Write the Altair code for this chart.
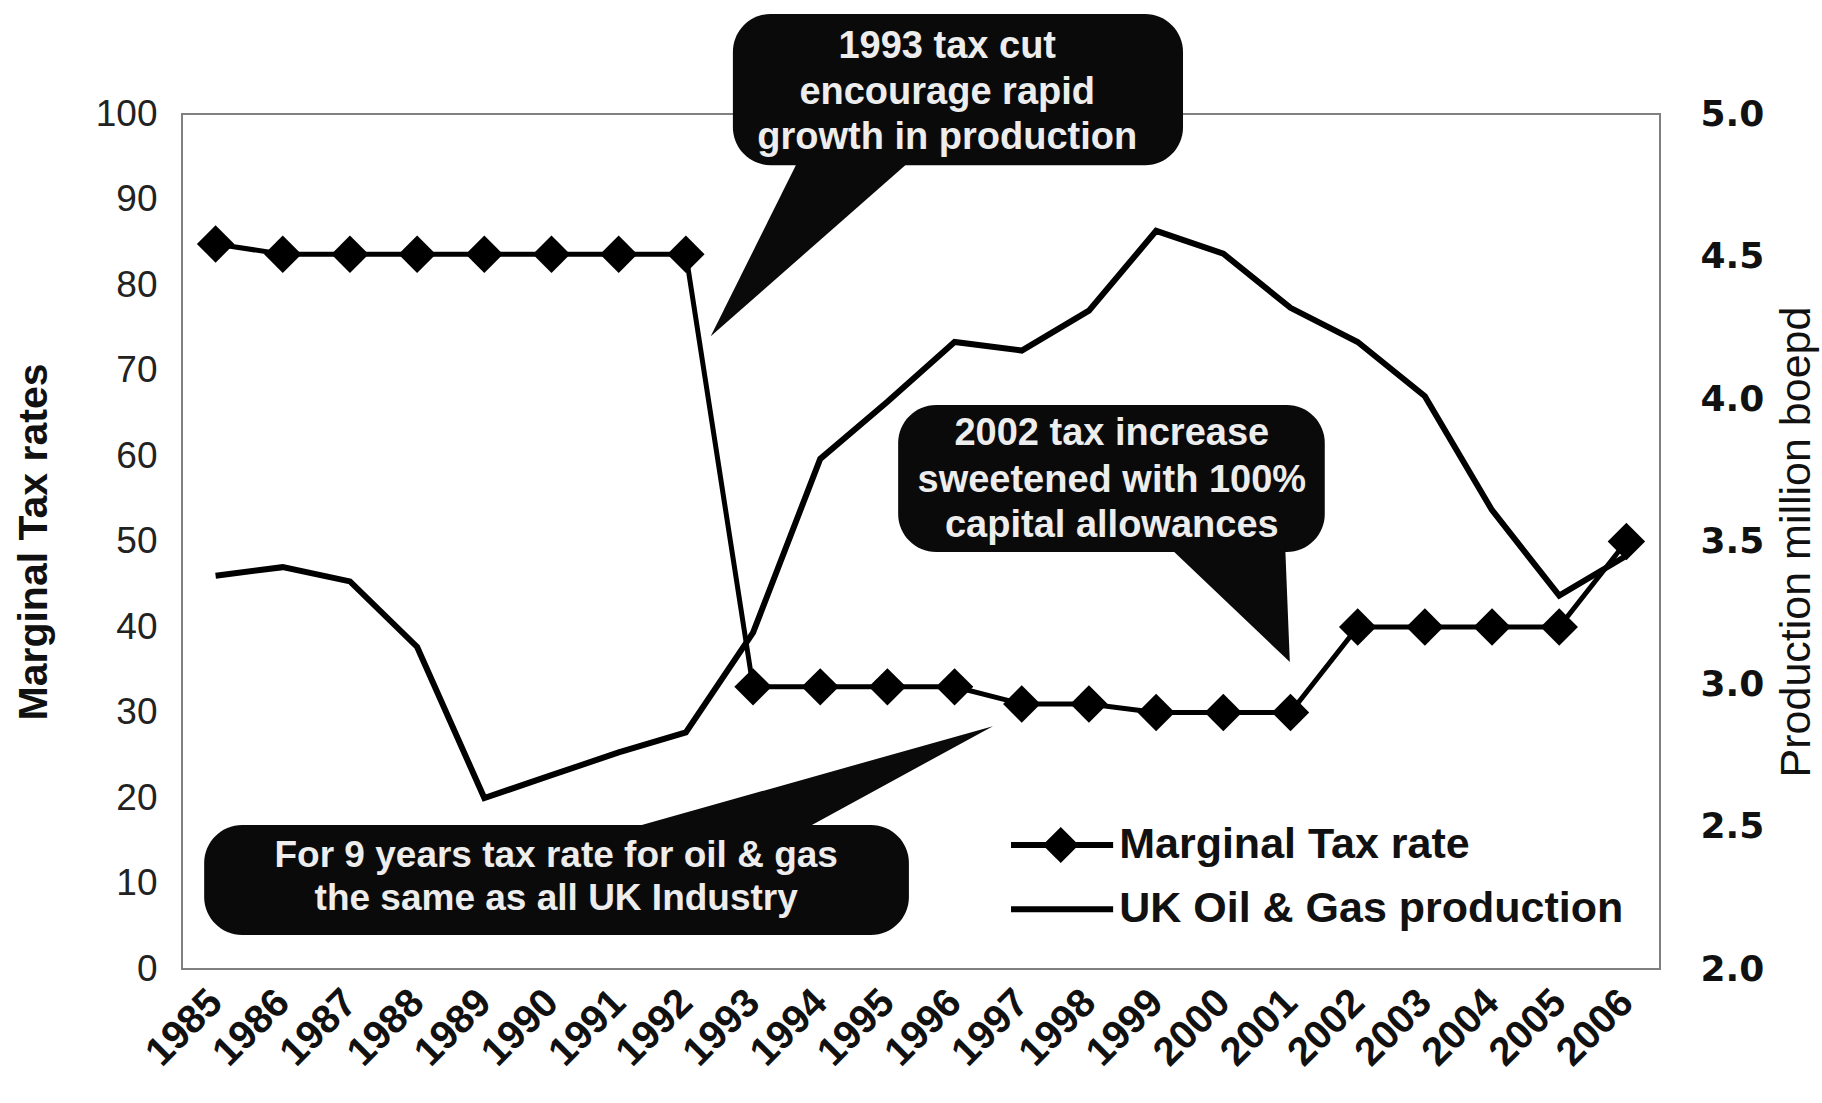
import altair as alt
import pandas as pd

# ---------------- data ----------------
years = list(range(1985, 2007))
tax_rate = [84.8, 83.6, 83.6, 83.6, 83.6, 83.6, 83.6, 83.6,
            33, 33, 33, 33, 31, 31, 30, 30, 30, 40, 40, 40, 40, 50]
production = [3.38, 3.41, 3.36, 3.13, 2.60, 2.68, 2.76, 2.83,
              3.18, 3.79, 3.99, 4.20, 4.17, 4.31, 4.59, 4.51,
              4.32, 4.20, 4.01, 3.61, 3.31, 3.45]

left_ticks = [0, 10, 20, 30, 40, 50, 60, 70, 80, 90, 100]
right_ticks = [2.0, 2.5, 3.0, 3.5, 4.0, 4.5, 5.0]

# callout boxes (year / tax-rate units)
box_x1 = [1992.70, 1995.16, 1984.83]
box_x2 = [1999.40, 2001.51, 1995.32]
box_y1 = [111.7, 65.96, 16.84]
box_y2 = [94.0, 48.77, 3.98]

# callout tails: (x, y) vertices
tail_vertices = [
    [(1992.37, 74.0), (1993.70, 95.0), (1995.41, 95.0)],
    [(2000.99, 35.9), (1999.16, 49.6), (2000.92, 49.6)],
    [(1996.57, 28.4), (1991.08, 16.26), (1993.74, 16.26)],
]

callout_text = [
    "1993 tax cut", "encourage rapid", "growth in production",
    "2002 tax increase", "sweetened with 100%", "capital allowances",
    "For 9 years tax rate for oil & gas", "the same as all UK Industry",
]
callout_x = [1995.89, 1995.89, 1995.89, 1998.34, 1998.34, 1998.34, 1990.07, 1990.07]
callout_y = [107.8, 102.5, 97.2, 62.6, 57.1, 51.8, 13.2, 8.2]
callout_size = [38, 38, 38, 38, 38, 38, 37, 37]

legend_labels = ["Marginal Tax rate", "UK Oil & Gas production"]
legend_x1 = [1996.84, 1996.84]
legend_x2 = [1998.36, 1998.36]
legend_mark_x = [1997.58]
legend_text_x = [1998.45, 1998.45]
legend_y = [14.5, 7.0]

FONT = "Liberation Sans"

# ---------------- tables ----------------
df = pd.DataFrame({"year": years, "tax": tax_rate, "prod": production})
boxes = pd.DataFrame({"x1": box_x1, "x2": box_x2, "y1": box_y1, "y2": box_y2})


def tri_to_area(vertices, tid):
    rows = []
    edges = [(vertices[i], vertices[(i + 1) % 3]) for i in range(3)]
    for vx, _ in sorted(vertices):
        ys = []
        for (ax, ay), (bx, by) in edges:
            lo, hi = min(ax, bx), max(ax, bx)
            if lo - 1e-9 <= vx <= hi + 1e-9:
                if abs(bx - ax) < 1e-9:
                    ys += [ay, by]
                else:
                    t = (vx - ax) / (bx - ax)
                    ys.append(ay + t * (by - ay))
        rows.append({"tail": tid, "x": vx, "y": max(ys), "y2": min(ys)})
    return rows


tails = pd.DataFrame([r for i, v in enumerate(tail_vertices) for r in tri_to_area(v, i)])
texts = pd.DataFrame({"text": callout_text, "x": callout_x, "y": callout_y, "size": callout_size})
leg = pd.DataFrame({"label": legend_labels, "x1": legend_x1, "x2": legend_x2,
                    "tx": legend_text_x, "y": legend_y})
leg_pt = pd.DataFrame({"x": legend_mark_x, "y": legend_y[:1]})

# ---------------- scales / axes ----------------
x_scale = alt.Scale(domain=[1984.5, 2006.5], nice=False, zero=False)
prod_scale = alt.Scale(domain=[2, 5], nice=False, zero=False)


def tax_scale():
    return alt.Scale(domain=[0, 100], nice=False, zero=False)


x_axis = alt.Axis(values=years, format="d", labelAngle=-45, labelAlign="right",
                  labelBaseline="middle", labelFont=FONT, labelFontSize=40,
                  labelFontWeight="bold", labelColor="#111", ticks=False,
                  domain=False, grid=False, labelPadding=27, title=None,
                  labelOverlap=False)
left_axis = alt.Axis(values=left_ticks, title="Marginal Tax rates", titleFont=FONT,
                     titleFontSize=41, titleFontWeight="bold", titleColor="#111",
                     titlePadding=40, labelFont=FONT, labelFontSize=37,
                     labelFontWeight="normal", labelColor="#222", labelPadding=25,
                     ticks=False, domain=False, grid=False, orient="left")
right_axis = alt.Axis(values=right_ticks, format=".1f", orient="right",
                      title="Production million boepd", titleFont=FONT,
                      titleFontSize=43, titleFontWeight="normal", titleColor="#111",
                      titleAngle=270, titleBaseline="top", titlePadding=12,
                      labelFont="DejaVu Sans", labelFontSize=36, labelFontWeight="bold",
                      labelColor="#111", labelPadding=40, ticks=False,
                      domain=False, grid=False)


def X(field):
    # identical x axis in every layer so the shared axis merges cleanly
    return alt.X(field, type="quantitative", scale=x_scale, axis=x_axis)


def Yt(field, axis=None):
    return alt.Y(field, type="quantitative", scale=tax_scale(), axis=axis)


# ---------------- layers ----------------
prod_line = alt.Chart(df).mark_line(color="black", strokeWidth=6).encode(
    x=X("year"), y=alt.Y("prod:Q", scale=prod_scale, axis=right_axis))

tax_line = alt.Chart(df).mark_line(color="black", strokeWidth=5).encode(
    x=X("year"), y=Yt("tax", left_axis))
tax_pts = alt.Chart(df).mark_point(shape="diamond", filled=True, size=1400,
                                   color="black", opacity=1).encode(
    x=X("year"), y=Yt("tax"))

box_marks = alt.Chart(boxes).mark_rect(color="#0a0a0a", cornerRadius=38).encode(
    x=X("x1"), x2="x2", y=Yt("y1"), y2="y2")
tail_marks = alt.Chart(tails).mark_area(color="#0a0a0a", interpolate="linear").encode(
    x=X("x"), y=Yt("y"), y2="y2", detail="tail:N")
text_marks = alt.Chart(texts).mark_text(font=FONT, fontWeight="bold", color="#ededed",
                                        align="center", baseline="middle").encode(
    x=X("x"), y=Yt("y"), text="text:N",
    size=alt.Size("size:Q", scale=None, legend=None))

leg_rules = alt.Chart(leg).mark_rule(color="black", strokeWidth=6).encode(
    x=X("x1"), x2="x2", y=Yt("y"))
leg_diamond = alt.Chart(leg_pt).mark_point(shape="diamond", filled=True, size=1300,
                                           color="black", opacity=1).encode(
    x=X("x"), y=Yt("y"))
leg_text = alt.Chart(leg).mark_text(font=FONT, fontWeight="bold", fontSize=43,
                                    color="#111", align="left", baseline="middle").encode(
    x=X("tx"), y=Yt("y"), text="label:N")

chart = alt.layer(prod_line, tax_line, tax_pts, box_marks, tail_marks, text_marks,
                  leg_rules, leg_diamond, leg_text).resolve_scale(y="independent").properties(
    width=1478, height=855,
    autosize=alt.AutoSizeParams(type="none"),
    padding={"left": 182, "top": 114, "right": 162, "bottom": 134},
    background="white",
).configure_view(stroke="#808080", strokeWidth=2)

chart.save("out.html", embed_options={"renderer": "svg", "actions": False})
